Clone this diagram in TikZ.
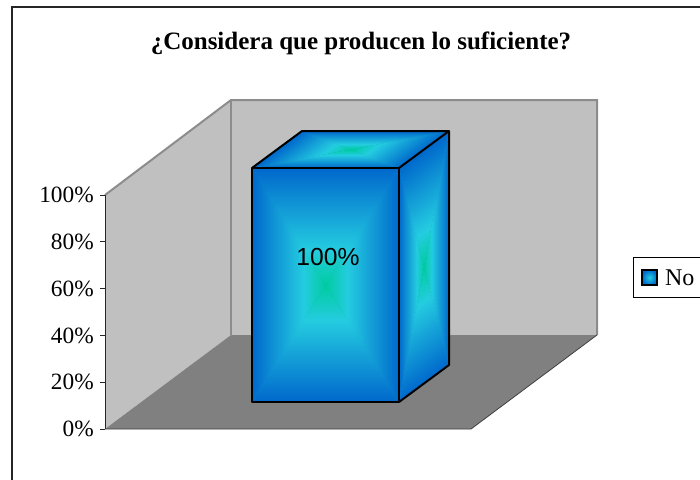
\documentclass[tikz,border=0pt]{standalone}
\usepackage{fontspec}
\setmainfont{Liberation Serif}
\newfontfamily\arialfont{Liberation Sans}
\usetikzlibrary{positioning}

\definecolor{wallgray}{RGB}{192,192,192}
\definecolor{floorgray}{RGB}{128,128,128}
\definecolor{edgegray}{RGB}{140,140,140}
\definecolor{bedge}{RGB}{0,104,204}
\definecolor{bmid}{RGB}{36,204,224}
\definecolor{bcen}{RGB}{0,204,160}

\pgfdeclarehorizontalshading{edgecenter}{100bp}{color(0bp)=(bedge); color(25bp)=(bedge); color(60bp)=(bmid); color(75bp)=(bcen); color(100bp)=(bcen)}

\begin{document}
\begin{tikzpicture}[x=0.75pt,y=-0.75pt,
  wallline/.style={draw=edgegray,line width=1.5pt},
  floorline/.style={draw=black!75,line width=0.6pt},
  barline/.style={draw=black,line width=1.5pt,line join=round},
  face/.style={shading=edgecenter,shading angle=#1},
  ticklabel/.style={anchor=east,inner sep=0pt,font=\fontsize{17.5}{20}\selectfont}]

\useasboundingbox (0,0) rectangle (700,479);

% chart area frame
\draw[line width=1.5pt,black!85] (12,7) rectangle (720,500);
\node[anchor=base,inner sep=0pt,font=\fontsize{18.75}{22}\selectfont\bfseries] (title) at (361,49) {¿Considera que producen lo suficiente?};

% walls and floor
\fill[wallgray] (231,100) rectangle (597,335);
\fill[wallgray] (105,195) -- (231,100) -- (231,335) -- (105,429) -- cycle;
\fill[floorgray] (105,429) -- (471,429) -- (597,335) -- (231,335) -- cycle;
\draw[wallline] (105,195) -- (231,100) -- (597,100) -- (597,335);
\draw[wallline] (231,100) -- (231,335);
\draw[floorline] (105,429) -- (471,429) -- (597,335);

% value axis
\draw[black!85,line width=0.75pt] (105,195) -- (105,429);
\foreach \p [count=\i from 0] in {0,20,...,100} {
  \def\yy{429-\i*46.8}
  \draw[black!85,line width=0.75pt] (100,{\yy}) -- (105,{\yy});
  \node[ticklabel] (lbl\p) at (94,{\yy}) {\p\%};
}

% bar: front face
\def\fl{252} \def\fr{399} \def\ft{168} \def\fb{402}
\def\dx{50} \def\dy{-37}
\coordinate (fc) at (325.5,285);
\fill[bedge!50!bmid] (\fl,\ft) rectangle (\fr,\fb);
\shade[face=0] (\fl,\ft) -- (\fl,\fb) -- (fc) -- cycle;
\shade[face=180] (\fr,\ft) -- (\fr,\fb) -- (fc) -- cycle;
\shade[face=270] (\fl,\ft) -- (\fr,\ft) -- (fc) -- cycle;
\shade[face=90] (\fl,\fb) -- (\fr,\fb) -- (fc) -- cycle;

% top face, sheared from a flat rectangle
\begin{scope}[transform canvas={cm={1,0,1.35135,1,(170.27pt,0pt)}}]
\coordinate (tc) at (325.5,149.5);
\fill[bedge!50!bmid] (\fl,131) rectangle (\fr,\ft);
\shade[face=90] (\fl,\ft) -- (\fr,\ft) -- (tc) -- cycle;
\shade[face=270] (\fl,131) -- (\fr,131) -- (tc) -- cycle;
\shade[face=0] (\fl,\ft) -- (\fl,131) -- (tc) -- cycle;
\shade[face=180] (\fr,\ft) -- (\fr,131) -- (tc) -- cycle;
\end{scope}

% side face, sheared the same way
\begin{scope}[transform canvas={cm={1,0.74,0,1,(0pt,-221.445pt)}}]
\coordinate (sc) at (424,285);
\fill[bedge!50!bmid] (\fr,\ft) rectangle (449,\fb);
\shade[face=0] (\fr,\ft) -- (\fr,\fb) -- (sc) -- cycle;
\shade[face=180] (449,\ft) -- (449,\fb) -- (sc) -- cycle;
\shade[face=270] (\fr,\ft) -- (449,\ft) -- (sc) -- cycle;
\shade[face=90] (\fr,\fb) -- (449,\fb) -- (sc) -- cycle;
\end{scope}

\draw[barline] (\fl,\ft) rectangle (\fr,\fb);
\draw[barline] (\fl,\ft) -- (\fl+\dx,\ft+\dy) -- (\fr+\dx,\ft+\dy) -- (\fr+\dx,\fb+\dy) -- (\fr,\fb);
\draw[barline] (\fr,\ft) -- (\fr+\dx,\ft+\dy);
\node[inner sep=0pt,font=\arialfont\fontsize{18.5}{22}\selectfont] (barval) at (328,257.5) {100\%};

% legend
\draw[black,line width=0.75pt] (633,257) rectangle (720,297);
\node[draw=black,line width=1.5pt,inner color=bmid,outer color=bedge,minimum size=11.5pt,inner sep=0pt] (legkey) at (649.5,277.5) {};
\node[right=5pt of legkey,inner sep=0pt,font=\fontsize{18}{20}\selectfont] (legtext) {No};

\end{tikzpicture}
\end{document}
